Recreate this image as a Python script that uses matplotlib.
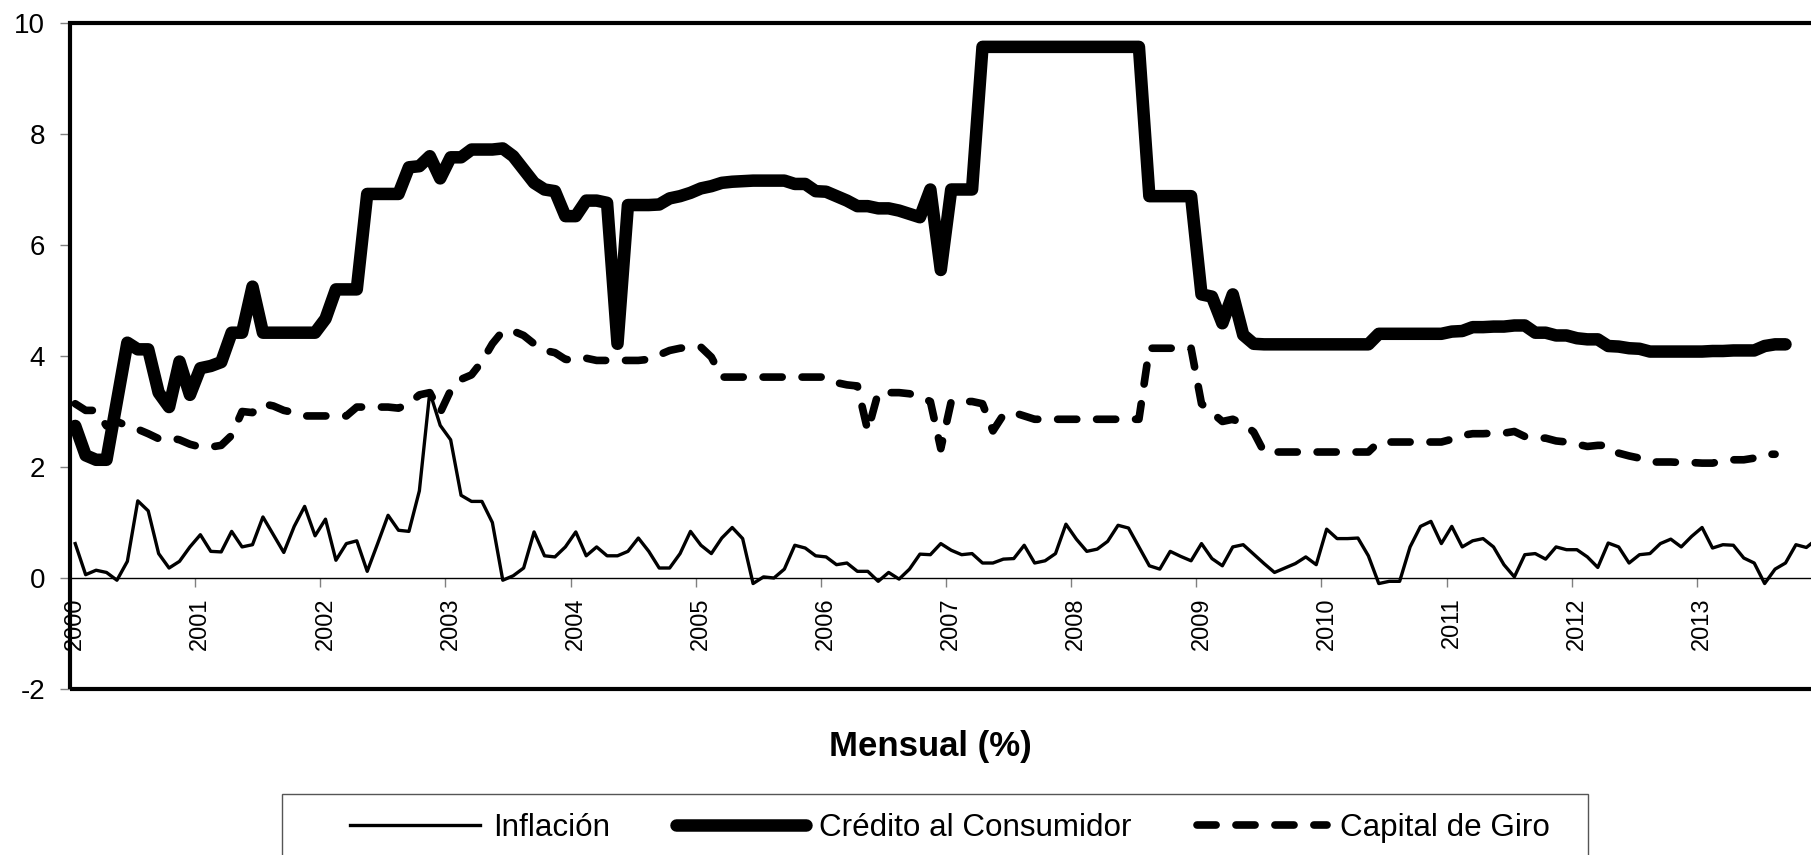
import matplotlib
matplotlib.use("Agg")
import matplotlib.pyplot as plt
from matplotlib import font_manager
from matplotlib.patches import Rectangle

plt.rcParams['font.family'] = ['Liberation Sans', 'DejaVu Sans']
plt.rcParams['axes.unicode_minus'] = False

years = ['2000', '2001', '2002', '2003', '2004', '2005', '2006',
         '2007', '2008', '2009', '2010', '2011', '2012', '2013']
n_months = 168

inflacion = [
    0.62, 0.06, 0.14, 0.10, -0.04, 0.30, 1.39, 1.21, 0.44, 0.18, 0.30, 0.56,
    0.78, 0.48, 0.47, 0.84, 0.56, 0.60, 1.10, 0.78, 0.46, 0.93, 1.29, 0.76,
    1.06, 0.32, 0.62, 0.67, 0.12, 0.62, 1.13, 0.86, 0.84, 1.57, 3.35, 2.75,
    2.49, 1.49, 1.38, 1.38, 1.00, -0.04, 0.04, 0.18, 0.83, 0.40, 0.38, 0.56,
    0.83, 0.40, 0.56, 0.40, 0.40, 0.48, 0.72, 0.48, 0.18, 0.18, 0.44, 0.84,
    0.59, 0.44, 0.72, 0.91, 0.71, -0.10, 0.02, 0.00, 0.16, 0.59, 0.54, 0.40,
    0.38, 0.24, 0.27, 0.12, 0.12, -0.06, 0.10, -0.02, 0.16, 0.43, 0.42, 0.62,
    0.50, 0.42, 0.44, 0.27, 0.27, 0.34, 0.35, 0.59, 0.27, 0.31, 0.44, 0.97,
    0.70, 0.48, 0.52, 0.66, 0.95, 0.90, 0.56, 0.22, 0.16, 0.48, 0.39, 0.31,
    0.62, 0.35, 0.22, 0.56, 0.60, 0.43, 0.26, 0.10, 0.18, 0.26, 0.38, 0.24,
    0.88, 0.71, 0.71, 0.72, 0.40, -0.10, -0.06, -0.06, 0.56, 0.93, 1.02, 0.62,
    0.93, 0.56, 0.67, 0.71, 0.56, 0.24, 0.02, 0.42, 0.44, 0.34, 0.56, 0.51,
    0.51, 0.38, 0.19, 0.63, 0.56, 0.27, 0.42, 0.44, 0.62, 0.70, 0.56, 0.75,
    0.91, 0.54, 0.60, 0.59, 0.36, 0.27, -0.10, 0.16, 0.27, 0.60, 0.55, 0.70,
]

credito = [
    2.74, 2.21, 2.13, 2.13, 3.19, 4.24, 4.12, 4.12, 3.34, 3.08, 3.90, 3.30,
    3.78, 3.82, 3.89, 4.42, 4.42, 5.25, 4.42, 4.42, 4.42, 4.42, 4.42, 4.42,
    4.67, 5.20, 5.20, 5.20, 6.92, 6.92, 6.92, 6.92, 7.40, 7.42, 7.60, 7.20,
    7.58, 7.58, 7.72, 7.72, 7.72, 7.74, 7.60, 7.36, 7.12, 7.00, 6.97, 6.52,
    6.52, 6.80, 6.80, 6.76, 4.22, 6.72, 6.72, 6.72, 6.73, 6.84, 6.88, 6.94,
    7.02, 7.06, 7.12, 7.14, 7.15, 7.16, 7.16, 7.16, 7.16, 7.10, 7.10, 6.97,
    6.96, 6.88, 6.80, 6.70, 6.70, 6.66, 6.66, 6.62, 6.56, 6.50, 7.00, 5.55,
    7.00, 7.00, 7.00, 9.57, 9.57, 9.57, 9.57, 9.57, 9.57, 9.57, 9.57, 9.57,
    9.57, 9.57, 9.57, 9.57, 9.57, 9.57, 9.57, 6.88, 6.88, 6.88, 6.88, 6.88,
    5.11, 5.07, 4.59, 5.11, 4.38, 4.22, 4.21, 4.21, 4.21, 4.21, 4.21, 4.21,
    4.21, 4.21, 4.21, 4.21, 4.21, 4.40, 4.40, 4.40, 4.40, 4.40, 4.40, 4.40,
    4.44, 4.45, 4.52, 4.52, 4.53, 4.53, 4.55, 4.55, 4.42, 4.42, 4.37, 4.37,
    4.32, 4.30, 4.30, 4.18, 4.17, 4.14, 4.13, 4.08, 4.08, 4.08, 4.08, 4.08,
    4.08, 4.09, 4.09, 4.10, 4.10, 4.10, 4.18, 4.21, 4.21,
]

capital_giro = [
    3.14, 3.02, 3.02, 2.74, 2.82, 2.74, 2.68, 2.60, 2.51, 2.53, 2.49, 2.41,
    2.36, 2.36, 2.39, 2.57, 3.00, 2.98, 3.14, 3.10, 3.02, 2.98, 2.92, 2.92,
    2.92, 2.92, 2.92, 3.08, 3.08, 3.08, 3.08, 3.06, 3.14, 3.30, 3.34, 2.98,
    3.38, 3.58, 3.66, 3.90, 4.22, 4.45, 4.45, 4.37, 4.22, 4.10, 4.06, 3.94,
    3.92, 3.96, 3.92, 3.92, 3.92, 3.92, 3.92, 3.94, 4.02, 4.10, 4.14, 4.16,
    4.16, 3.98, 3.62, 3.62, 3.62, 3.62, 3.62, 3.62, 3.62, 3.62, 3.62, 3.62,
    3.62, 3.52, 3.48, 3.46, 2.65, 3.34, 3.34, 3.34, 3.32, 3.27, 3.18, 2.33,
    3.18, 3.18, 3.18, 3.14, 2.65, 2.94, 2.98, 2.92, 2.86, 2.86, 2.86, 2.86,
    2.86, 2.86, 2.86, 2.86, 2.86, 2.86, 2.86, 4.14, 4.14, 4.14, 4.14, 4.14,
    3.14, 2.98, 2.82, 2.86, 2.78, 2.63, 2.27, 2.27, 2.27, 2.27, 2.27, 2.27,
    2.27, 2.27, 2.27, 2.27, 2.27, 2.45, 2.45, 2.45, 2.45, 2.45, 2.45, 2.45,
    2.50, 2.57, 2.60, 2.60, 2.61, 2.61, 2.64, 2.55, 2.52, 2.52, 2.47, 2.45,
    2.41, 2.37, 2.39, 2.39, 2.25, 2.20, 2.16, 2.09, 2.09, 2.09, 2.08, 2.08,
    2.07, 2.07, 2.11, 2.13, 2.13, 2.16, 2.23, 2.23,
]

W, H = 1811, 855
fig = plt.figure(figsize=(W / 100, H / 100), dpi=100)
# plot area runs past the right edge of the picture, as in the original
ax = fig.add_axes([70 / W, 1 - 689 / H, 1752 / W, 666 / H])

ax.plot(range(len(inflacion)), inflacion, color='black', lw=2.4,
        solid_joinstyle='round', label='Inflación')
ax.plot(range(len(credito)), credito, color='black', lw=9,
        solid_joinstyle='round', solid_capstyle='round',
        label='Crédito al Consumidor')
ax.plot(range(len(capital_giro)), capital_giro, color='black', lw=5.5,
        linestyle=(0, (2.5, 2.6)), dash_capstyle='round',
        dash_joinstyle='round', label='Capital de Giro')

ax.set_xlim(-0.5, n_months - 0.5)
ax.set_ylim(-2, 10)
ax.set_yticks(range(-2, 11, 2))

for side in ['left', 'top', 'right']:
    ax.spines[side].set_visible(False)
ax.spines['bottom'].set_position(('data', 0))
ax.spines['bottom'].set_linewidth(1)
ax.add_patch(Rectangle((0, 0), 1, 1, transform=ax.transAxes, fill=False,
                       lw=3, edgecolor='black', clip_on=False, zorder=5))

# year labels at each January, tick marks between years
ax.set_xticks(range(0, n_months, 12))
ax.set_xticks([m - 0.5 for m in range(12, n_months, 12)], minor=True)
try:
    font_manager.findfont('Liberation Sans Narrow', fallback_to_default=False)
    xfont = dict(family=['Liberation Sans Narrow', 'Liberation Sans'], size=21)
except Exception:
    xfont = dict(family=['Liberation Sans', 'DejaVu Sans'], size=17)
ax.set_xticklabels(years, rotation=90, va='top', ha='center', fontdict=xfont)
ax.tick_params(axis='x', which='major', length=0, pad=14)
ax.tick_params(axis='x', which='minor', length=6.5, width=1, color='#808080',
               direction='out')
ax.tick_params(axis='y', direction='out', length=7, width=1, color='#808080',
               pad=11, labelsize=20)

fig.text(930 / W, 1 - 746 / H, 'Mensual (%)', ha='center', va='center',
         fontsize=25, fontweight='bold')

fig.add_artist(Rectangle((282 / W, -0.05), (1588 - 282) / W, 0.05 + 1 - 794 / H,
                         transform=fig.transFigure, fill=False, lw=1,
                         edgecolor='#555555'))
fig.legend(handles=ax.get_lines(), loc='center left',
           bbox_to_anchor=(350 / W, 1 - 828 / H), ncol=3, frameon=False,
           fontsize=22.6, handlelength=4.15, handletextpad=0.4,
           columnspacing=2.1, borderpad=0, borderaxespad=0)

fig.savefig('out.png', dpi=100)
